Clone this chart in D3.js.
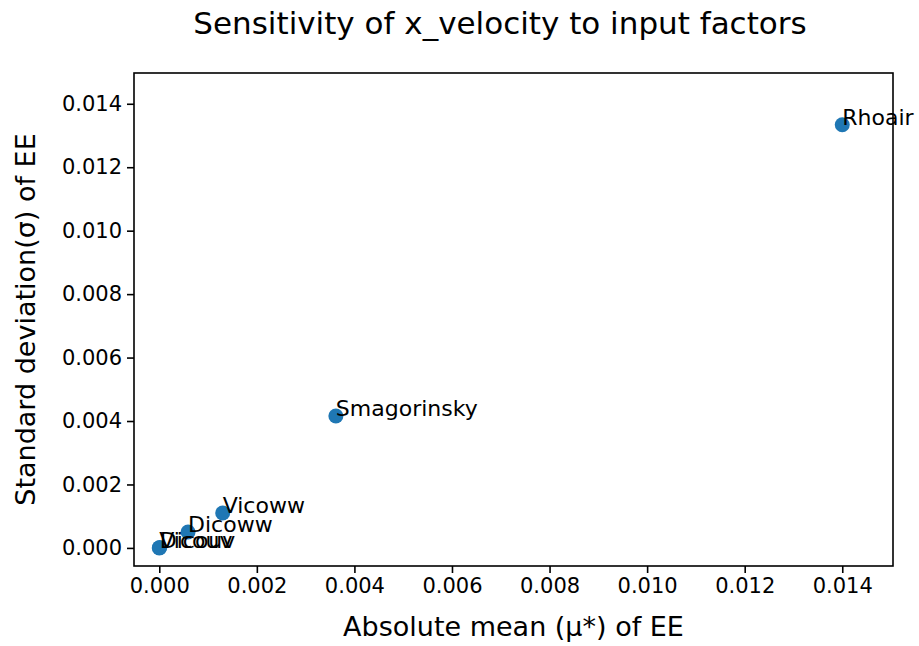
<!DOCTYPE html>
<html>
<head>
<meta charset="utf-8">
<script src="https://cdn.jsdelivr.net/npm/d3@7"></script>
<style>
  body { margin: 0; background: #fff; }
  svg text { font-family: "DejaVu Sans", sans-serif; fill: #000; }
</style>
</head>
<body>
<div id="chart"></div>
<script>
// factor names and their elementary-effect statistics
const factors = ["Rhoair", "Smagorinsky", "Vicoww", "Dicoww", "Vicouv", "Dicouv"];
const muStar = [0.01400, 0.00362, 0.00130, 0.00059, 0.00000, 0.00001];
const sigma = [0.01334, 0.00416, 0.00110, 0.00050, 0.00000, 0.00001];
const xTicks = [0, 0.002, 0.004, 0.006, 0.008, 0.010, 0.012, 0.014];
const yTicks = [0, 0.002, 0.004, 0.006, 0.008, 0.010, 0.012, 0.014];

const width = 919, height = 646;
const margin = { top: 73, right: 26, bottom: 80, left: 134 };

const svg = d3.select("#chart").append("svg")
    .attr("width", width)
    .attr("height", height);

const x = d3.scaleLinear()
    .domain([-0.000518, 0.01504])
    .range([margin.left, width - margin.right]);

const y = d3.scaleLinear()
    .domain([-0.00057, 0.01497])
    .range([height - margin.bottom, margin.top]);

const points = factors.map((name, i) => ({ name, mu: muStar[i], sd: sigma[i] }));

// points first, labels on top (as in matplotlib annotate)
svg.append("g").selectAll("circle")
    .data(points)
    .join("circle")
    .attr("cx", d => x(d.mu))
    .attr("cy", d => y(d.sd))
    .attr("r", 7.5)
    .attr("fill", "#1f77b4");

svg.append("g").selectAll("text")
    .data(points)
    .join("text")
    .attr("x", d => x(d.mu))
    .attr("y", d => y(d.sd))
    .attr("font-size", 22)
    .attr("fill", "#000")
    .text(d => d.name);

// axes
const xAxis = d3.axisBottom(x)
    .tickValues(xTicks)
    .tickFormat(d3.format(".3f"))
    .tickSize(7)
    .tickPadding(5);

const yAxis = d3.axisLeft(y)
    .tickValues(yTicks)
    .tickFormat(d3.format(".3f"))
    .tickSize(7)
    .tickPadding(5);

const gx = svg.append("g")
    .attr("transform", `translate(0,${height - margin.bottom})`)
    .call(xAxis);

const gy = svg.append("g")
    .attr("transform", `translate(${margin.left},0)`)
    .call(yAxis);

[gx, gy].forEach(g => {
    g.select(".domain").remove();
    g.selectAll(".tick line").attr("stroke", "#000").attr("stroke-width", 1.6);
    g.selectAll(".tick text")
        .attr("font-size", 21)
        .attr("font-family", "DejaVu Sans, sans-serif")
        .attr("fill", "#000");
});

// frame
svg.append("rect")
    .attr("x", margin.left)
    .attr("y", margin.top)
    .attr("width", width - margin.left - margin.right)
    .attr("height", height - margin.top - margin.bottom)
    .attr("fill", "none")
    .attr("stroke", "#000")
    .attr("stroke-width", 1.6);

// labels
svg.append("text")
    .attr("x", 500)
    .attr("y", 34)
    .attr("text-anchor", "middle")
    .attr("font-size", 31)
    .text("Sensitivity of x_velocity to input factors");

svg.append("text")
    .attr("x", (margin.left + width - margin.right) / 2)
    .attr("y", 636)
    .attr("text-anchor", "middle")
    .attr("font-size", 27)
    .text("Absolute mean (μ*) of EE");

svg.append("text")
    .attr("transform", `translate(35,${(margin.top + height - margin.bottom) / 2}) rotate(-90)`)
    .attr("text-anchor", "middle")
    .attr("font-size", 27)
    .text("Standard deviation(σ) of EE");
</script>
</body>
</html>
